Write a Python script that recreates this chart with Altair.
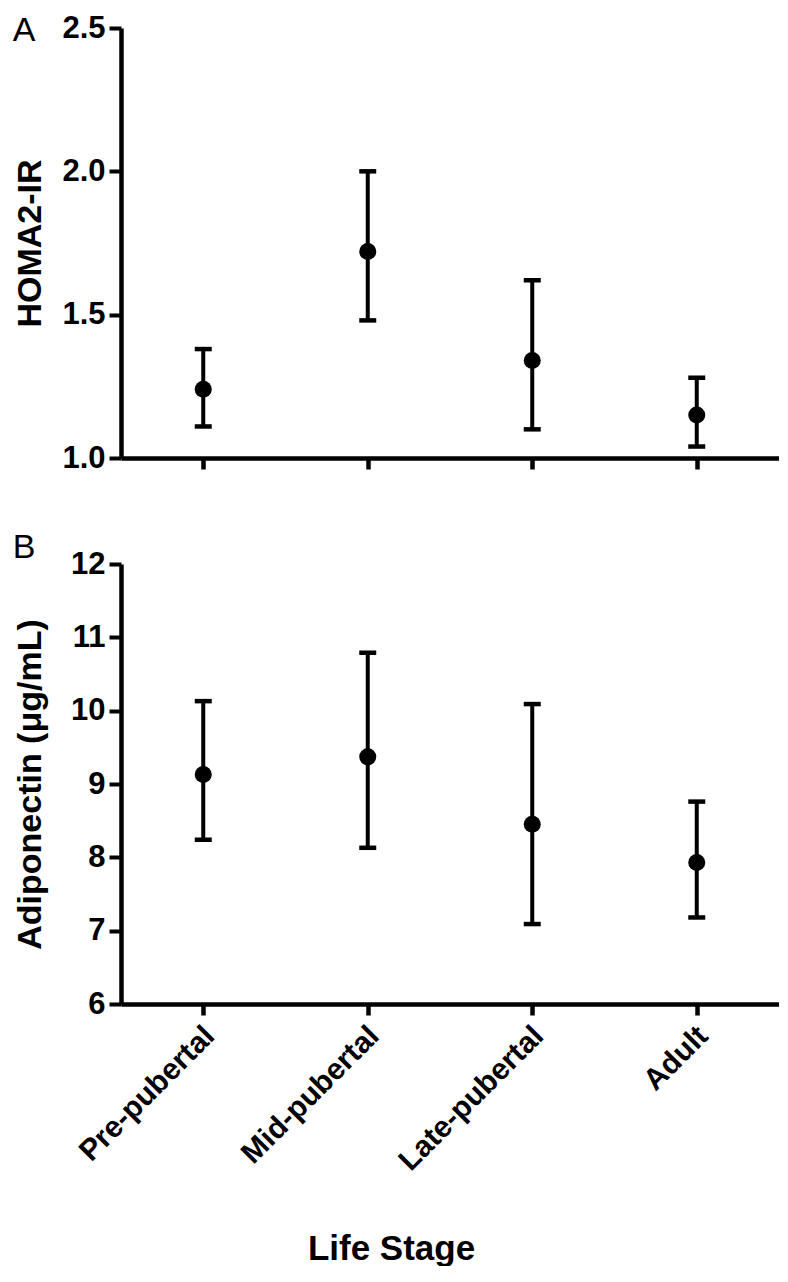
import altair as alt
import pandas as pd

stages = ["Pre-pubertal", "Mid-pubertal", "Late-pubertal", "Adult"]
homa_mean = [1.24, 1.72, 1.34, 1.15]
homa_upper = [1.38, 2.00, 1.62, 1.28]
homa_lower = [1.11, 1.48, 1.10, 1.04]
adipo_mean = [9.13, 9.37, 8.45, 7.93]
adipo_upper = [10.13, 10.79, 10.09, 8.76]
adipo_lower = [8.24, 8.13, 7.09, 7.18]
homa_ticks = [1.0, 1.5, 2.0, 2.5]
adipo_ticks = [6, 7, 8, 9, 10, 11, 12]

FONT = "Liberation Sans"
W = 658


def panel(mean, upper, lower, ytitle, ticks, fmt, domain, letter, height, letter_y, bottom):
    df = pd.DataFrame({"stage": stages, "mean": mean, "upper": upper, "lower": lower})
    common_x = dict(domainColor="black", domainWidth=4.5, tickColor="black",
                    tickWidth=4.5, tickSize=11, grid=False)
    if bottom:
        xaxis = alt.Axis(labelAngle=-45, labelAlign="right", labelBaseline="middle",
                         labelOffset=6, labelPadding=16, labelFont=FONT, labelLimit=500,
                         labelFontSize=30, labelFontWeight="bold", labelColor="black",
                         title="Life Stage", titleFont=FONT, titleFontSize=35,
                         titleFontWeight="bold", titleColor="black", titleX=270,
                         titleY=244, titleAlign="center", titleBaseline="middle",
                         labelOverlap=False, **common_x)
    else:
        xaxis = alt.Axis(labels=False, title=None, **common_x)
    x = alt.X("stage:N", sort=stages, scale=alt.Scale(type="point", padding=0.5), axis=xaxis)
    yaxis = alt.Axis(values=ticks, format=fmt, title=ytitle, titleX=-91, titleY=height / 2,
                     titleAngle=-90, titleAlign="center", titleBaseline="middle",
                     titleFont=FONT, titleFontSize=34, titleFontWeight="bold",
                     titleColor="black", labelFont=FONT, labelFontSize=31,
                     labelFontWeight="bold", labelColor="black", labelPadding=4,
                     tickSize=12, tickWidth=4, tickColor="black", domainColor="black",
                     domainWidth=4.5, grid=False)
    yscale = alt.Scale(domain=domain, nice=False, zero=False)
    base = alt.Chart(df)
    rule = base.mark_rule(color="black", strokeWidth=4).encode(
        x=x, y=alt.Y("lower:Q", scale=yscale, axis=yaxis), y2="upper:Q")
    cap_hi = base.mark_tick(color="black", orient="horizontal", size=17, thickness=4.5,
                            opacity=1).encode(x=x, y=alt.Y("upper:Q", scale=yscale))
    cap_lo = base.mark_tick(color="black", orient="horizontal", size=17, thickness=4.5,
                            opacity=1).encode(x=x, y=alt.Y("lower:Q", scale=yscale))
    dots = base.mark_circle(color="black", size=290, opacity=1).encode(
        x=x, y=alt.Y("mean:Q", scale=yscale))
    lab = alt.Chart(pd.DataFrame({"t": [letter]})).mark_text(
        font=FONT, fontSize=34, color="black", align="center", baseline="middle").encode(
        x=alt.value(-97), y=alt.value(letter_y), text="t:N")
    return alt.layer(rule, cap_hi, cap_lo, dots, lab).properties(width=W, height=height)


top = panel(homa_mean, homa_upper, homa_lower, "HOMA2-IR", homa_ticks, ".1f", [1.0, 2.5],
            "A", 430, 3, False)
bot = panel(adipo_mean, adipo_upper, adipo_lower, "Adiponectin (μg/mL)", adipo_ticks, "d",
            [6, 12], "B", 440, -16, True)

chart = alt.vconcat(top, bot, spacing=58).configure_view(stroke=None).properties(
    padding={"top": 4, "left": 4, "right": 0, "bottom": 0})

chart.save("out.html", embed_options={"renderer": "svg", "actions": False})
